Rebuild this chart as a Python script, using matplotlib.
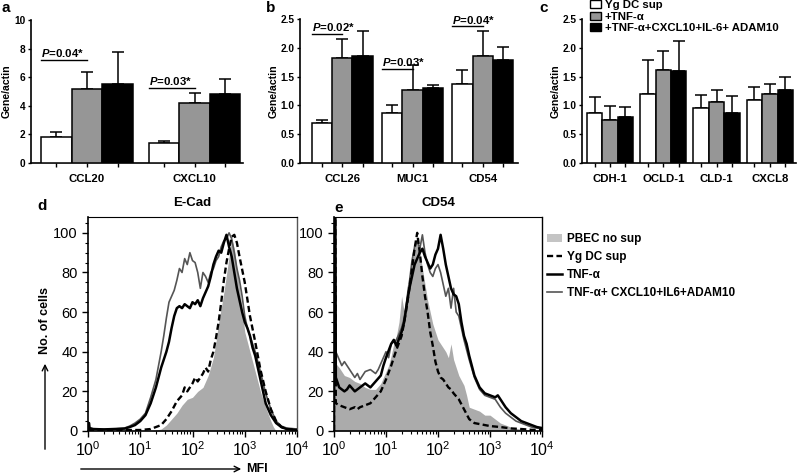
import matplotlib
matplotlib.use("Agg")
import matplotlib.pyplot as plt
import numpy as np
from matplotlib.patches import Patch, Rectangle
from matplotlib.lines import Line2D
from matplotlib.ticker import MultipleLocator, FixedLocator, LogLocator, NullFormatter

plt.rcParams['font.family'] = ['Liberation Sans', 'DejaVu Sans']
plt.rcParams['mathtext.fontset'] = 'custom'
plt.rcParams['mathtext.rm'] = 'Liberation Sans'
plt.rcParams['mathtext.it'] = 'Liberation Sans:italic:bold'
plt.rcParams['mathtext.bf'] = 'Liberation Sans:bold'

# ---------------- bar data ----------------
series_names = ["Yg DC sup", "+TNF-\u03b1", "+TNF-\u03b1+CXCL10+IL-6+ ADAM10"]
bar_colors = ["white", "#969696", "black"]

a_cats = ["CCL20", "CXCL10"]
a_yg = [1.85, 1.38]
a_yg_err = [0.30, 0.18]
a_tnf = [5.16, 4.22]
a_tnf_err = [1.17, 0.68]
a_mix = [5.52, 4.80]
a_mix_err = [2.22, 1.05]
a_pvals = ["$P$=0.04*", "$P$=0.03*"]
a_plevels = [7.2, 5.23]

b_cats = ["CCL26", "MUC1", "CD54"]
b_yg = [0.70, 0.87, 1.38]
b_yg_err = [0.05, 0.13, 0.23]
b_tnf = [1.83, 1.26, 1.85]
b_tnf_err = [0.33, 0.44, 0.45]
b_mix = [1.86, 1.31, 1.78]
b_mix_err = [0.44, 0.04, 0.23]
b_pvals = ["$P$=0.02*", "$P$=0.03*", "$P$=0.04*"]
b_plevels = [2.245, 1.64, 2.37]

c_cats = ["CDH-1", "OCLD-1", "CLD-1", "CXCL8"]
c_yg = [0.86, 1.19, 0.96, 1.10]
c_yg_err = [0.29, 0.59, 0.22, 0.22]
c_tnf = [0.75, 1.61, 1.06, 1.20]
c_tnf_err = [0.24, 0.33, 0.20, 0.18]
c_mix = [0.80, 1.59, 0.86, 1.27]
c_mix_err = [0.18, 0.52, 0.31, 0.22]

# ---------------- flow histogram data (log10 MFI, % max) ----------------
d_pbec_L = [0, 1.2, 1.4, 1.5, 1.6, 1.7, 1.8, 1.9, 2.0, 2.1, 2.2, 2.3, 2.4, 2.45, 2.5, 2.55, 2.6, 2.65,
            2.7, 2.75, 2.8, 2.85, 2.9, 2.95, 3.0, 3.1, 3.2, 3.3, 3.4, 3.5, 3.55, 3.6, 4.0]
d_pbec_y = [0, 0, 1, 3, 6, 9, 13, 16, 17, 20, 22, 28, 37, 45, 55, 62, 70, 79,
            88, 97, 92, 82, 72, 62, 50, 40, 30, 20, 12, 5, 2, 0, 0]

d_yg_L = [0, 1.0, 1.2, 1.4, 1.5, 1.6, 1.7, 1.8, 1.85, 1.9, 2.0, 2.05, 2.1, 2.2, 2.25, 2.3, 2.35, 2.4,
          2.45, 2.5, 2.55, 2.6, 2.65, 2.7, 2.75, 2.8, 2.85, 2.9, 3.0, 3.1, 3.2, 3.3, 3.4, 3.5, 3.6,
          3.7, 3.8, 4.0]
d_yg_y = [0.5, 0.5, 1, 3, 6, 10, 15, 18, 22, 20, 24, 27, 25, 29, 32, 30, 36, 40,
          47, 55, 65, 76, 85, 92, 98, 99, 95, 88, 75, 58, 45, 31, 20, 11, 5,
          2, 1, 0.5]

d_tnf_L = [0, 0.005, 0.02, 0.03, 0.1, 0.3, 0.5, 0.7, 0.8, 0.9, 1.0, 1.1, 1.2, 1.3, 1.4, 1.5, 1.55,
           1.6, 1.65, 1.7, 1.75, 1.8, 1.85, 1.9, 1.95, 2.0, 2.05, 2.1, 2.15, 2.2, 2.25, 2.3, 2.35,
           2.4, 2.45, 2.5, 2.55, 2.6, 2.65, 2.7, 2.75, 2.8, 2.85, 2.9, 2.95, 3.0, 3.05, 3.1, 3.15,
           3.2, 3.3, 3.4, 3.5, 3.6, 3.7, 3.8, 4.0]
d_tnf_y = [0, 4, 4, 1.5, 1, 0.8, 1, 1.2, 2, 3, 5, 8, 14, 22, 32, 40, 45,
           52, 58, 62, 63, 62, 64, 63, 62, 65, 64, 66, 63, 67, 70, 73, 78,
           84, 88, 91, 90, 95, 99, 93, 88, 80, 72, 66, 60, 55, 52, 48, 42,
           38, 26, 14, 8, 4, 2, 1, 0.5]

d_mix_L = [0, 0.03, 0.2, 0.5, 0.7, 0.8, 0.9, 1.0, 1.1, 1.2, 1.3, 1.4, 1.45, 1.5, 1.55, 1.6, 1.65,
           1.7, 1.75, 1.8, 1.85, 1.9, 1.95, 2.0, 2.05, 2.1, 2.15, 2.2, 2.25, 2.3, 2.35, 2.4, 2.45,
           2.5, 2.55, 2.6, 2.65, 2.7, 2.75, 2.8, 2.85, 2.9, 2.95, 3.0, 3.05, 3.1, 3.2, 3.3, 3.4,
           3.5, 3.6, 3.7, 3.8, 4.0]
d_mix_y = [3, 1, 0.8, 1, 1.5, 2.5, 4, 6, 9, 17, 26, 40, 48, 57, 65, 68, 71,
           76, 82, 80, 87, 84, 90, 86, 85, 80, 72, 80, 78, 75, 80, 82, 86,
           88, 93, 96, 97, 100, 97, 90, 82, 76, 68, 58, 52, 48, 40, 30, 19,
           11, 5, 2.5, 1.5, 1]

e_pbec_L = [0, 0.005, 0.025, 0.035, 0.1, 0.2, 0.3, 0.4, 0.5, 0.6, 0.7, 0.8, 0.9, 1.0, 1.05, 1.1, 1.15,
            1.2, 1.25, 1.3, 1.35, 1.4, 1.45, 1.5, 1.55, 1.6, 1.65, 1.7, 1.75, 1.8, 1.85, 1.9, 1.95,
            2.0, 2.1, 2.15, 2.2, 2.25, 2.3, 2.35, 2.4, 2.5, 2.55, 2.6, 2.7, 2.8, 2.9, 3.0, 3.1,
            3.2, 3.3, 3.45, 3.6, 3.8, 4.0]
e_pbec_y = [0, 115, 115, 34, 32, 28, 27, 25, 24, 22, 21, 21, 24, 30, 33, 38, 44,
            48, 55, 68, 60, 72, 79, 86, 94, 98, 91, 82, 74, 66, 60, 54, 50,
            46, 42, 40, 37, 44, 36, 32, 28, 23, 18, 12, 11, 10, 8, 8, 6,
            4, 3, 1.5, 1, 0.5, 0]

e_yg_L = [0, 0.005, 0.025, 0.035, 0.1, 0.2, 0.3, 0.4, 0.45, 0.5, 0.6, 0.7, 0.8, 0.9, 1.0, 1.1, 1.2,
          1.3, 1.35, 1.4, 1.45, 1.5, 1.55, 1.6, 1.65, 1.7, 1.75, 1.8, 1.85, 1.9, 1.95, 2.0, 2.05,
          2.1, 2.15, 2.2, 2.25, 2.3, 2.4, 2.5, 2.6, 2.7, 2.8, 2.9, 3.0, 3.2, 3.4, 3.6, 3.8, 4.0]
e_yg_y = [0, 115, 115, 14, 13, 12, 11, 12, 11, 12, 13, 14, 17, 20, 26, 33, 41,
          48, 55, 63, 72, 82, 92, 100, 90, 78, 68, 60, 50, 43, 35, 30, 27,
          26, 24, 22, 21, 19, 16, 11, 6, 4, 3.5, 3, 2.5, 2, 1.3, 1, 0.6, 0.5]

e_tnf_L = [0, 0.005, 0.025, 0.035, 0.1, 0.2, 0.25, 0.3, 0.4, 0.5, 0.6, 0.7, 0.8, 0.9, 0.95, 1.0, 1.1,
           1.15, 1.2, 1.3, 1.35, 1.4, 1.45, 1.5, 1.55, 1.6, 1.65, 1.7, 1.75, 1.8, 1.85, 1.9, 1.95,
           2.0, 2.05, 2.1, 2.15, 2.2, 2.25, 2.3, 2.35, 2.4, 2.45, 2.5, 2.55, 2.6, 2.65, 2.7, 2.8,
           2.9, 3.0, 3.1, 3.15, 3.2, 3.3, 3.4, 3.5, 3.6, 3.7, 3.8, 3.9, 4.0]
e_tnf_y = [0, 115, 115, 27, 22, 20, 21, 23, 20, 22, 24, 22, 25, 28, 33, 37, 44,
           46, 43, 50, 55, 64, 72, 78, 84, 87, 90, 92, 88, 85, 82, 84, 89,
           92, 99, 92, 84, 78, 72, 69, 68, 64, 55, 48, 44, 38, 33, 28, 22,
           19, 18, 17, 18, 16, 12, 9, 7, 5, 4, 3, 2, 1.5]

e_mix_L = [0, 0.005, 0.025, 0.035, 0.1, 0.15, 0.2, 0.3, 0.35, 0.4, 0.45, 0.5, 0.55, 0.6, 0.7, 0.8,
           0.85, 0.9, 1.0, 1.05, 1.1, 1.2, 1.3, 1.35, 1.4, 1.45, 1.5, 1.55, 1.6, 1.65, 1.7, 1.75,
           1.8, 1.85, 1.9, 1.95, 2.0, 2.05, 2.1, 2.15, 2.2, 2.25, 2.3, 2.35, 2.4, 2.5, 2.6, 2.7,
           2.8, 2.9, 3.0, 3.1, 3.2, 3.3, 3.4, 3.5, 3.6, 3.7, 3.8, 4.0]
e_mix_y = [0, 115, 115, 40, 36, 33, 35, 31, 29, 27, 29, 26, 28, 30, 31, 29,
           31, 34, 40, 37, 44, 46, 52, 57, 66, 75, 86, 93, 96, 92, 99, 90,
           84, 80, 78, 82, 84, 80, 74, 68, 72, 62, 72, 60, 58, 46, 36, 27,
           21, 18, 17, 16, 12, 9, 7, 5, 4, 3, 2, 1]

legend_flow = ["PBEC no sup", "Yg DC sup", "TNF-\u03b1", "TNF-\u03b1+ CXCL10+IL6+ADAM10"]

# ---------------- figure ----------------
W, H = 800, 476
fig = plt.figure(figsize=(W / 100, H / 100), dpi=100)


def px_rect(l, t, r, b):
    return [l / W, 1 - b / H, (r - l) / W, (b - t) / H]


BFS = 8.2
YFS = 7.3


def bar_panel(rect, cats, vals, errs, w, xlim, ylim, yticks, fmt, pvals=None, plevels=None):
    ax = fig.add_axes(rect)
    n = len(cats)
    x = np.arange(n)
    offs = [-w, 0, w]
    tick_pos = []
    for k in range(3):
        ax.bar(x + offs[k], vals[k], width=w, color=bar_colors[k], edgecolor="black",
               linewidth=1.1, zorder=3)
        ax.errorbar(x + offs[k], vals[k], yerr=[np.zeros(n), errs[k]], fmt="none",
                    ecolor="black", elinewidth=1.1, capsize=4.3, capthick=1.1, zorder=2)
        tick_pos += list(x + offs[k])
    ax.set_xlim(*xlim)
    ax.set_ylim(*ylim)
    for s in ["top", "right"]:
        ax.spines[s].set_visible(False)
    for s in ["left", "bottom"]:
        ax.spines[s].set_linewidth(1.2)
    ax.xaxis.remove_overlapping_locs = False
    ax.set_xticks(sorted(tick_pos))
    ax.set_xticklabels([])
    ax.set_xticks(x, minor=True)
    ax.set_xticklabels(cats, minor=True, fontsize=BFS, fontweight="bold")
    ax.tick_params(axis="x", which="major", length=3.0, width=1.0, direction="out")
    ax.tick_params(axis="x", which="minor", length=0, pad=8)
    ax.set_yticks(yticks)
    ax.set_yticklabels([fmt.format(v) for v in yticks], fontsize=YFS, fontweight="bold")
    ax.tick_params(axis="y", length=2.5, width=1.0, pad=1.5)
    ax.set_ylabel("Gene/actin", fontsize=YFS + 0.3, fontweight="bold", labelpad=1.5)
    if pvals is not None:
        for i, (lab, lev) in enumerate(zip(pvals, plevels)):
            x0 = i - 1.5 * w
            x1 = i
            ax.plot([x0, x1], [lev, lev], color="black", lw=1.0, zorder=4)
            ax.text(x0, lev + (ylim[1] - ylim[0]) * 0.005, lab, ha="left", va="bottom",
                    fontsize=BFS, fontweight="bold", zorder=5)
    return ax


ax_a = bar_panel(px_rect(31, 20, 243, 163), a_cats, [a_yg, a_tnf, a_mix],
                 [a_yg_err, a_tnf_err, a_mix_err], 0.284, (-0.52, 1.45), (0, 10),
                 [0, 2, 4, 6, 8, 10], "{:.0f}", a_pvals, a_plevels)
ax_b = bar_panel(px_rect(300, 19, 518, 163), b_cats, [b_yg, b_tnf, b_mix],
                 [b_yg_err, b_tnf_err, b_mix_err], 0.29, (-0.6, 2.5), (0, 2.5),
                 [0, 0.5, 1.0, 1.5, 2.0, 2.5], "{:.1f}", b_pvals, b_plevels)
ax_c = bar_panel(px_rect(582, 19, 796, 163), c_cats, [c_yg, c_tnf, c_mix],
                 [c_yg_err, c_tnf_err, c_mix_err], 0.29, (-0.525, 3.49), (0, 2.5),
                 [0, 0.5, 1.0, 1.5, 2.0, 2.5], "{:.1f}", None, None)

handles_c = [Rectangle((0, 0), 1, 1, facecolor=c, edgecolor="black", linewidth=1.0) for c in bar_colors]
fig.legend(handles_c, series_names, loc="upper left", bbox_to_anchor=(590 / W, 1.0),
           frameon=False, prop={"weight": "bold", "size": BFS},
           handlelength=0.95, handleheight=0.75, handletextpad=0.35, labelspacing=0.12,
           borderpad=0.0, borderaxespad=0)

# ---------------- flow panels ----------------
FFS = 10.5


def flow_panel(rect, title, fill, yg, tnf, mix, right_color):
    ax = fig.add_axes(rect)
    fx = 10 ** np.array(fill[0], dtype=float)
    ax.fill_between(fx, 0, fill[1], color="#ababab", lw=0, zorder=1)
    ax.plot(10 ** np.array(mix[0], dtype=float), mix[1], color="#555555", lw=1.2, zorder=2)
    ax.plot(10 ** np.array(tnf[0], dtype=float), tnf[1], color="black", lw=1.8, zorder=3)
    ax.plot(10 ** np.array(yg[0], dtype=float), yg[1], color="black", lw=1.7,
            linestyle=(0, (2.6, 1.4)), zorder=4)
    ax.set_xscale("log")
    ax.set_xlim(1, 1e4)
    ax.set_ylim(0, 108)
    ax.set_yticks([0, 20, 40, 60, 80, 100])
    ax.yaxis.set_minor_locator(MultipleLocator(5))
    ax.xaxis.set_major_locator(FixedLocator([1, 10, 100, 1000, 10000]))
    ax.xaxis.set_minor_locator(LogLocator(base=10, subs=np.arange(2, 10), numticks=20))
    ax.xaxis.set_minor_formatter(NullFormatter())
    ax.set_xticklabels(["$10^{0}$", "$10^{1}$", "$10^{2}$", "$10^{3}$", "$10^{4}$"])
    ax.tick_params(axis="both", which="major", length=4, width=1.0, labelsize=FFS, direction="out")
    ax.tick_params(axis="x", which="major", labelsize=FFS + 1, pad=3)
    ax.tick_params(axis="both", which="minor", length=2, width=0.8, direction="out")
    ax.spines["left"].set_linewidth(1.2)
    ax.spines["bottom"].set_linewidth(1.2)
    ax.spines["top"].set_linewidth(0.8)
    ax.spines["right"].set_linewidth(1.0)
    ax.spines["right"].set_color(right_color)
    ax.set_title(title, fontsize=9.5, fontweight="bold", pad=8)
    return ax


ax_d = flow_panel(px_rect(88, 217, 297, 431), "E-Cad", (d_pbec_L, d_pbec_y), (d_yg_L, d_yg_y),
                  (d_tnf_L, d_tnf_y), (d_mix_L, d_mix_y), "#555555")
ax_e = flow_panel(px_rect(334, 217, 542, 431), "CD54", (e_pbec_L, e_pbec_y), (e_yg_L, e_yg_y),
                  (e_tnf_L, e_tnf_y), (e_mix_L, e_mix_y), "black")

flow_handles = [Patch(facecolor="#c4c4c4", edgecolor="none"),
                Line2D([], [], color="black", lw=1.7, linestyle=(0, (2.6, 1.4))),
                Line2D([], [], color="black", lw=1.8),
                Line2D([], [], color="#555555", lw=1.2)]
fig.legend(flow_handles, legend_flow, loc="upper left", bbox_to_anchor=(547 / W, 1 - 233 / H),
           frameon=False, prop={"weight": "bold", "size": 8.5}, handlelength=1.3,
           handleheight=0.6, handletextpad=0.4, labelspacing=0.5, borderpad=0, borderaxespad=0)

# axis labels with arrows
fig.text(45 / W, 1 - 320 / H, "No. of cells", rotation=90, ha="center", va="center",
         fontsize=9, fontweight="bold")
fig.add_artist(matplotlib.patches.FancyArrowPatch((45 / W, 1 - 452 / H), (45 / W, 1 - 361 / H),
                                                  transform=fig.transFigure, arrowstyle="->",
                                                  mutation_scale=10, lw=1.0, color="black"))
fig.add_artist(matplotlib.patches.FancyArrowPatch((78 / W, 1 - 469 / H), (244 / W, 1 - 469 / H),
                                                  transform=fig.transFigure, arrowstyle="->",
                                                  mutation_scale=10, lw=1.0, color="black"))
fig.text(246 / W, 1 - 469 / H, "MFI", ha="left", va="center", fontsize=9, fontweight="bold")

# panel letters
for lab, xx, yy in [("a", 2, 1), ("b", 266, 1), ("c", 539, 1), ("d", 37, 199), ("e", 334, 201)]:
    fig.text(xx / W, 1 - yy / H, lab, ha="left", va="top", fontsize=11, fontweight="bold")

fig.savefig("out.png", dpi=100)
